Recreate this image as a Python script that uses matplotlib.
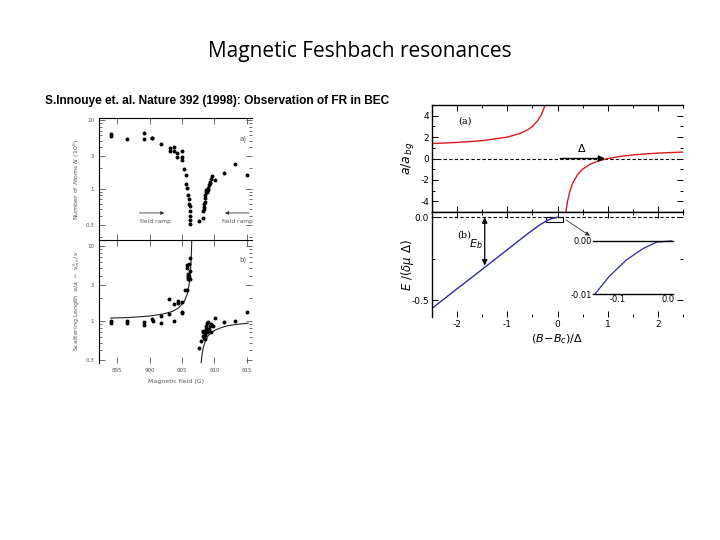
import matplotlib
matplotlib.use('Agg')
import matplotlib.pyplot as plt
from matplotlib.patches import Rectangle
from matplotlib.ticker import MultipleLocator, FixedLocator, NullFormatter

# Left figure (Inouye et al.), panel a: atom number vs field
field_a = [894.0, 894.0, 896.5, 899.2, 899.2, 900.4, 900.4, 901.7, 903.1, 903.1,
           903.7, 903.7, 904.3, 904.3, 905.0, 905.0, 905.0, 905.3, 905.6, 905.6,
           905.8, 906.0, 906.1, 906.1, 906.2, 906.2, 906.3, 906.3, 906.3, 907.6,
           908.2, 908.3, 908.35, 908.4, 908.45, 908.5, 908.5, 908.6, 908.7, 908.75,
           908.85, 908.95, 909.0, 909.2, 909.25, 909.35, 909.4, 909.7, 910.1, 911.5,
           913.2, 915.1]
atoms_a = [6.2, 5.8, 5.25, 6.4, 5.3, 5.5, 5.4, 4.5, 3.9, 3.5,
           4.1, 3.5, 3.3, 2.9, 3.6, 2.9, 2.6, 1.95, 1.6, 1.17,
           1.02, 0.81, 0.71, 0.6, 0.56, 0.47, 0.40, 0.35, 0.31, 0.34,
           0.38, 0.47, 0.51, 0.55, 0.6, 0.65, 0.73, 0.81, 0.89, 0.96,
           0.89, 1.04, 0.96, 1.14, 1.2, 1.27, 1.39, 1.56, 1.34, 1.69,
           2.28, 1.6]

# panel b: scattering length vs field
field_b = [894.0, 894.0, 896.5, 896.5, 899.2, 899.2, 900.4, 900.6, 901.7, 901.7,
           903.0, 903.0, 903.7, 903.7, 904.4, 904.4, 905.0, 905.0, 905.0, 905.4,
           905.7, 905.8, 905.8, 905.9, 905.9, 906.0, 906.0, 906.1, 906.1, 906.2,
           906.2, 906.3, 907.6, 907.9, 908.2, 908.3, 908.4, 908.5, 908.2, 908.6,
           908.6, 908.7, 908.8, 908.7, 908.9, 908.9, 909.0, 909.1, 909.2, 909.3,
           909.4, 909.5, 909.8, 910.1, 911.5, 913.2, 915.1]
scat_b = [1.0, 0.94, 1.0, 0.94, 0.97, 0.88, 1.04, 1.0, 1.15, 0.94,
          1.96, 1.22, 1.67, 1.0, 1.83, 1.74, 1.8, 1.31, 1.25, 2.58,
          2.58, 5.6, 5.1, 3.97, 4.17, 3.6, 3.78, 3.97, 5.8, 6.9,
          4.6, 3.6, 0.435, 0.53, 0.70, 0.72, 0.59, 0.56, 0.62, 0.70,
          0.65, 0.76, 0.70, 0.84, 0.92, 0.76, 0.97, 0.72, 0.76, 0.84,
          0.90, 0.70, 0.84, 1.07, 0.97, 1.0, 1.31]

# theory curve in panel b
theo_left_x = [894, 897, 900, 902, 903.5, 904.5, 905.3, 905.8, 906.1, 906.3, 906.42, 906.5, 906.52]
theo_left_y = [1.08, 1.10, 1.15, 1.22, 1.32, 1.48, 1.77, 2.25, 3.0, 4.3, 6.6, 11.0, 13.0]
theo_right_x = [907.95, 908.1, 908.3, 908.6, 909.0, 909.5, 910.2, 911.0, 912.0, 913.0, 914.0, 915.2]
theo_right_y = [0.27, 0.35, 0.44, 0.53, 0.62, 0.69, 0.75, 0.80, 0.85, 0.88, 0.90, 0.92]

# Right figure, panel (a): a/a_bg across the resonance
ra_left_x = [-2.5, -2.0, -1.5, -1.0, -0.75, -0.6, -0.5, -0.4, -0.33, -0.28, -0.25]
ra_left_y = [1.4, 1.5, 1.667, 2.0, 2.333, 2.667, 3.0, 3.5, 4.03, 4.57, 5.0]
ra_right_x = [0.167, 0.2, 0.25, 0.3, 0.4, 0.5, 0.65, 0.8, 1.0, 1.25, 1.5, 1.75, 2.0, 2.25, 2.5]
ra_right_y = [-5.0, -4.0, -3.0, -2.333, -1.5, -1.0, -0.538, -0.25, 0.0, 0.2, 0.333, 0.429, 0.5, 0.556, 0.6]

# panel (b): bound state energy, main and zoomed inset
rb_x = [-2.5, -2.0, -1.5, -1.0, -0.6, -0.35, -0.2, -0.1, 0.0]
rb_y = [-0.548, -0.43, -0.313, -0.195, -0.10, -0.045, -0.018, -0.006, 0.0]
inset_x = [-0.145, -0.117, -0.083, -0.049, -0.022, 0.007]
inset_y = [-0.010, -0.0067, -0.0036, -0.0014, -0.0002, 0.0]

W, H = 720, 540
fig = plt.figure(figsize=(7.2, 5.4), dpi=100)


def rect(x0, y0, x1, y1):
    # pixel box -> figure fraction
    return [x0 / W, 1 - y1 / H, (x1 - x0) / W, (y1 - y0) / H]


fig.text(360 / W, 1 - 52 / H, 'Magnetic Feshbach resonances', ha='center', va='center',
         fontsize=15, family='Open Sans', fontweight='medium')
fig.text(45 / W, 1 - 101 / H, 'S.Innouye et. al. Nature 392 (1998): Observation of FR in BEC',
         ha='left', va='center', fontsize=8.6, family='Liberation Sans', fontweight='bold')

grey = '#555555'

# ---- left figure ----
axa = fig.add_axes(rect(99, 118, 252, 240))
axb = fig.add_axes(rect(99, 240, 252, 363))
for ax in (axa, axb):
    ax.set_yscale('log')
    ax.set_xlim(892.2, 915.8)
    ax.xaxis.set_major_locator(FixedLocator([895, 900, 905, 910, 915]))
    ax.yaxis.set_major_locator(FixedLocator([0.3, 1, 3, 10]))
    ax.yaxis.set_minor_formatter(NullFormatter())
    ax.set_yticklabels(['0.3', '1', '3', '10'])
    ax.tick_params(which='both', direction='in', top=True, right=True, labelsize=4,
                   colors=grey, width=0.6)
    ax.tick_params(which='major', length=4)
    ax.tick_params(which='minor', length=2)
    ax.spines['right'].set_visible(False)
    ax.spines['bottom'].set_visible(False)
    for s in ('left', 'top'):
        ax.spines[s].set_linewidth(0.8)
axa.set_ylim(0.18, 10.7)
axb.set_ylim(0.27, 12)
axa.tick_params(labelbottom=False)
axb.tick_params(labeltop=False)

axa.scatter(field_a, atoms_a, s=8, color='black', zorder=3, linewidths=0)
axb.scatter(field_b, scat_b, s=8, color='black', zorder=3, linewidths=0)
axb.plot(theo_left_x, theo_left_y, color='#222222', lw=0.8)
axb.plot(theo_right_x, theo_right_y, color='#222222', lw=0.8)

axa.text(915.0, 5.4, 'a)', fontsize=5, color=grey, ha='right', va='center')
axb.text(915.0, 6.6, 'b)', fontsize=5, color=grey, ha='right', va='center')
axa.annotate('', xy=(902.7, 0.445), xytext=(898.0, 0.445),
             arrowprops=dict(arrowstyle='-|>', color='#333333', lw=0.6, mutation_scale=5))
axa.annotate('', xy=(911.2, 0.445), xytext=(915.8, 0.445),
             arrowprops=dict(arrowstyle='-|>', color='#333333', lw=0.6, mutation_scale=5))
axa.text(900.9, 0.34, 'field ramp', fontsize=4.3, color=grey, ha='center', va='center')
axa.text(913.5, 0.34, 'field ramp', fontsize=4.3, color=grey, ha='center', va='center')

fig.text(77 / W, 1 - 180 / H, r'Number of Atoms $N$ (10$^6$)', rotation=90,
         fontsize=4.5, color=grey, ha='center', va='center')
fig.text(77 / W, 1 - 300 / H, r'Scattering Length  $a/\tilde{a}\ \sim\ \tilde{\nu}^{\,5}_{ms}\,/\,\nu$',
         rotation=90, fontsize=4.5, color=grey, ha='center', va='center')
fig.text(176 / W, 1 - 382 / H, 'Magnetic field (G)', fontsize=4.5, color=grey,
         ha='center', va='center')

# ---- right figure ----
red = '#d41c1c'
blue = '#2c2c9c'
rxa = fig.add_axes(rect(432, 105, 683, 212))
rxb = fig.add_axes(rect(432, 212, 683, 317))
for ax in (rxa, rxb):
    ax.set_xlim(-2.5, 2.5)
    ax.xaxis.set_major_locator(MultipleLocator(1))
    ax.xaxis.set_minor_locator(MultipleLocator(0.5))
    ax.tick_params(which='both', direction='in', top=True, right=True, labelsize=6.5,
                   width=0.7, pad=2)
    ax.tick_params(which='major', length=4)
    ax.tick_params(which='minor', length=2)
    ax.spines['right'].set_visible(False)
    for s in ('left', 'top', 'bottom'):
        ax.spines[s].set_linewidth(1.0)

rxa.set_ylim(-5, 5)
rxa.set_yticks([-4, -2, 0, 2, 4])
rxa.set_yticklabels(['-4', '-2', '0', '2', '4'])
rxa.yaxis.set_minor_locator(MultipleLocator(1))
rxa.tick_params(labelbottom=False)
rxa.axhline(0, color='black', lw=0.8, ls=(0, (3, 2)))
rxa.plot(ra_left_x, ra_left_y, color=red, lw=1)
rxa.plot(ra_right_x, ra_right_y, color=red, lw=1)
rxa.annotate('', xy=(1.0, 0), xytext=(0.0, 0),
             arrowprops=dict(arrowstyle='-|>', color='black', lw=1, mutation_scale=9))
rxa.text(0.48, 1.0, r'$\Delta$', fontsize=8, ha='center', va='center')
rxa.text(-1.85, 3.5, '(a)', fontsize=7, ha='center', va='center', family='DejaVu Serif')

rxb.set_ylim(-0.6, 0.032)
rxb.set_yticks([-0.5, 0.0])
rxb.set_yticklabels(['-0.5', '0.0'])
rxb.set_xticks([-2, -1, 0, 1, 2])
rxb.set_xticklabels(['-2', '-1', '0', '1', '2'])
rxb.yaxis.set_minor_locator(MultipleLocator(0.25))
rxb.spines['bottom'].set_visible(False)
rxb.axhline(0, color='black', lw=0.8, ls=(0, (3, 2)))
rxb.plot(rb_x, rb_y, color=blue, lw=1)
rxb.add_patch(Rectangle((-0.22, -0.03), 0.32, 0.03, fill=False, lw=0.8, ec='black'))
rxb.annotate('', xy=(0.69, -0.12), xytext=(0.12, -0.006),
             arrowprops=dict(arrowstyle='-|>', color='#333333', lw=0.6, mutation_scale=6))
rxb.annotate('', xy=(-1.45, -0.29), xytext=(-1.45, 0.0),
             arrowprops=dict(arrowstyle='<|-|>', color='black', lw=0.9, mutation_scale=8,
                             shrinkA=0, shrinkB=0))
rxb.text(-1.62, -0.16, r'$E_b$', fontsize=8, ha='center', va='center')
rxb.text(-1.85, -0.105, '(b)', fontsize=7, ha='center', va='center', family='DejaVu Serif')

fig.text(408 / W, 1 - 158 / H, r'$a/a_{\,bg}$', rotation=90, fontsize=9,
         ha='center', va='center')
fig.text(408 / W, 1 - 265 / H, r'$E\ /(\delta\mu\ \Delta)$', rotation=90, fontsize=8.5,
         ha='center', va='center')
fig.text(557 / W, 1 - 339 / H, r'$(B\!-\!B_c)/\Delta$', fontsize=8, ha='center', va='center')

# inset
ins = fig.add_axes(rect(593, 241, 673, 294))
ins.set_xlim(-0.149, 0.01)
ins.set_ylim(-0.01, 0.0)
ins.patch.set_alpha(0)
ins.plot(inset_x, inset_y, color=blue, lw=0.9, clip_on=False)
ins.set_xticks([-0.1, 0.0])
ins.set_xticklabels(['-0.1', '0.0'])
ins.set_yticks([-0.01, 0.0])
ins.set_yticklabels(['-0.01', '0.00'])
ins.tick_params(length=0, labelsize=6, pad=1)
ins.spines['left'].set_visible(False)
ins.spines['right'].set_visible(False)
for s in ('top', 'bottom'):
    ins.spines[s].set_linewidth(1.0)

fig.savefig('out.png', dpi=100)
